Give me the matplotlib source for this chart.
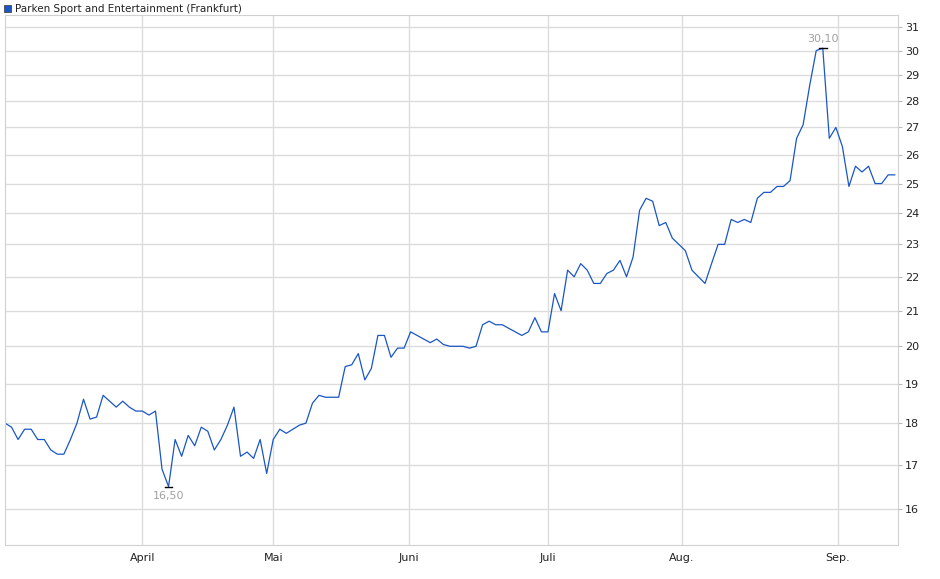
import matplotlib
matplotlib.use("Agg")
import matplotlib.pyplot as plt
from matplotlib.ticker import FixedLocator, NullLocator

title = "Parken Sport and Entertainment (Frankfurt)"
prices = [18.0,17.9,17.6,17.85,17.85,17.6,17.6,17.35,17.25,17.25,17.6,18.0,18.6,18.1,18.15,18.7,18.55,18.4,18.55,18.4,18.3,18.3,
          18.2,18.3,16.9,16.5,17.6,17.2,17.7,17.45,17.9,17.8,17.35,17.6,17.95,18.4,17.2,17.3,17.15,17.6,16.8,17.6,
          17.85,17.75,17.85,17.95,18.0,18.5,18.7,18.65,18.65,18.65,19.45,19.5,19.8,19.1,19.4,20.3,20.3,19.7,19.95,19.95,20.4,
          20.3,20.2,20.1,20.2,20.05,20.0,20.0,20.0,19.95,20.0,20.6,20.7,20.6,20.6,20.5,20.4,20.3,20.4,20.8,20.4,20.4,
          21.5,21.0,22.2,22.0,22.4,22.2,21.8,21.8,22.1,22.2,22.5,22.0,22.6,24.1,24.5,24.4,23.6,23.7,23.2,23.0,22.8,
          22.2,22.0,21.8,22.4,23.0,23.0,23.8,23.7,23.8,23.7,24.5,24.7,24.7,24.9,24.9,25.1,26.6,27.1,28.6,30.0,30.1,26.6,27.0,
          26.3,24.9,25.6,25.4,25.6,25.0,25.0,25.3,25.3]
month_labels = ["April", "Mai", "Juni", "Juli", "Aug.", "Sep."]
month_pos = [21, 41, 61.8, 83, 103.5, 127.3]
y_ticks = list(range(16, 32))

fig = plt.figure(figsize=(9.4, 5.79), dpi=100)
ax = fig.add_axes([5/940, 1-545/579, 893/940, 530/579])
x = list(range(len(prices)))
ax.plot(x, prices, color="#1a56c4", lw=0.9)
ax.set_yscale("log")
ax.set_ylim(15.23, 31.5)
ax.set_xlim(0, 136.5)
ax.yaxis.set_major_locator(FixedLocator(y_ticks))
ax.yaxis.set_minor_locator(NullLocator())
ax.set_yticklabels([str(t) for t in y_ticks])
ax.yaxis.tick_right()
ax.set_xticks(month_pos)
ax.set_xticklabels(month_labels)
ax.tick_params(axis="y", labelsize=8, length=3, width=0.8, color="#bbbbbb", pad=2, labelcolor="#222222")
ax.tick_params(axis="x", labelsize=8, length=0, pad=6, labelcolor="#222222")
ax.grid(True, color="#dcdcdc", lw=1)
for s in ax.spines.values():
    s.set_color("#d0d0d0")

imax = prices.index(max(prices)); imin = prices.index(min(prices))
for i, va, off in [(imax, "bottom", 3), (imin, "top", -3)]:
    ax.plot([i-0.6, i+0.6], [prices[i]]*2, color="black", lw=1)
    ax.annotate(f"{prices[i]:.2f}".replace(".", ","), (i, prices[i]), xytext=(0, off),
                textcoords="offset points", ha="center", va=va, fontsize=8, color="#a0a0a0")

fig.patches.append(plt.Rectangle((4/940, 1-12/579), 7/940, 7/579, transform=fig.transFigure,
                                 facecolor="#1a56c4", edgecolor="#333333", lw=0.5))
fig.text(15/940, 1-8.5/579, title, fontsize=7.5, va="center", ha="left", color="#222222")
fig.savefig("out.png", dpi=100)
